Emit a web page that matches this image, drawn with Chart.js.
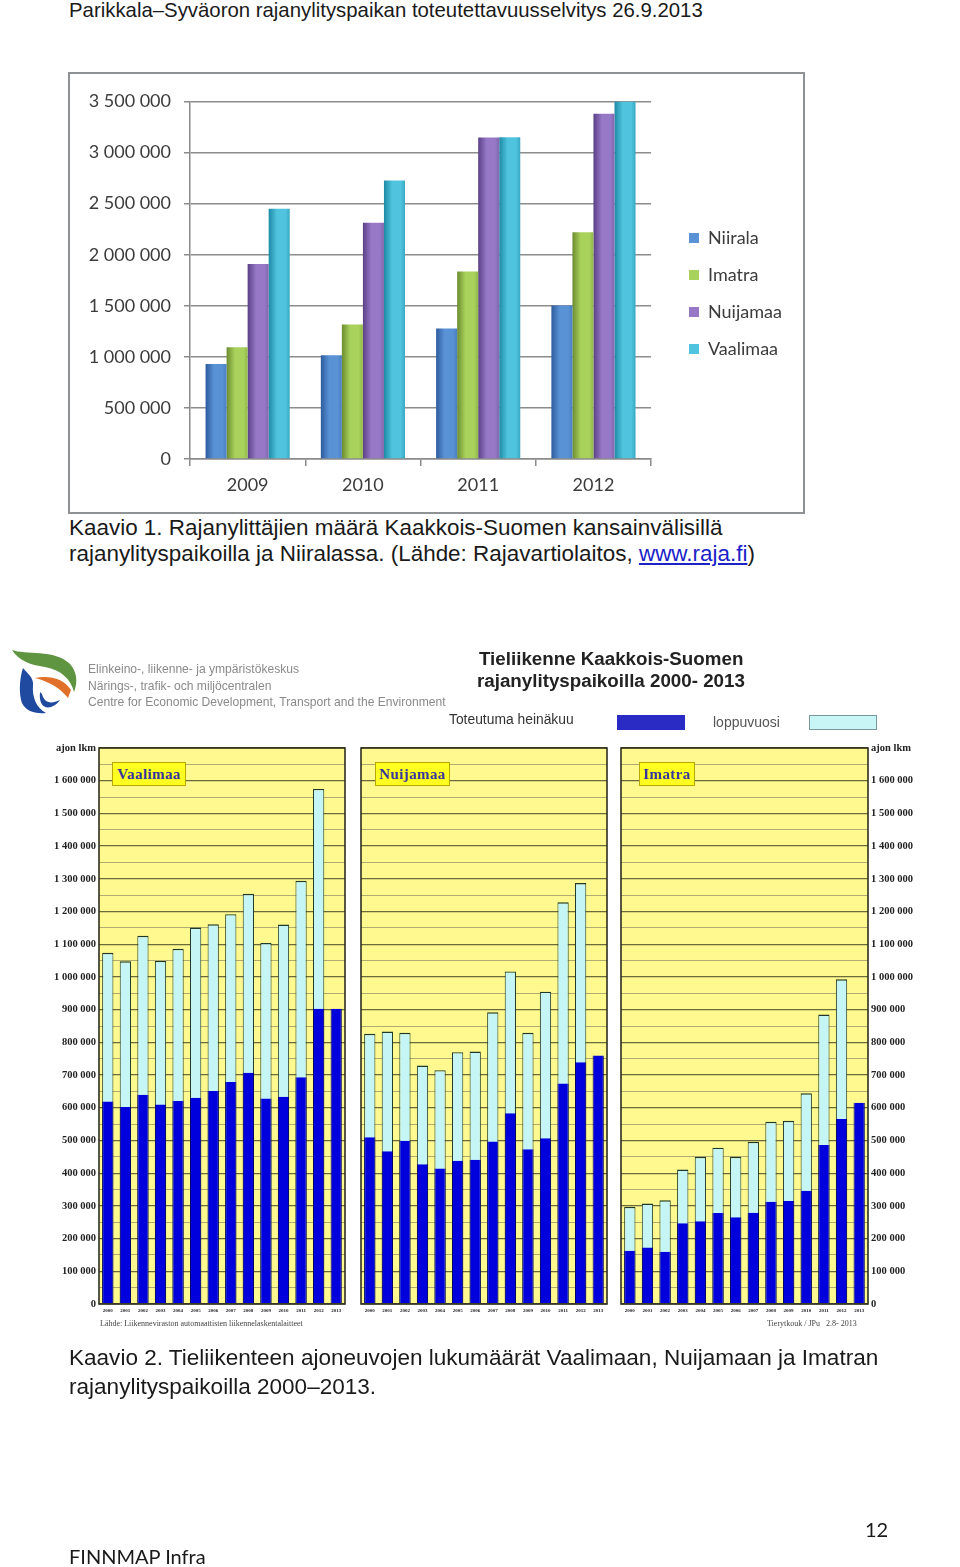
<!DOCTYPE html>
<html lang="fi"><head><meta charset="utf-8">
<script src="https://cdn.jsdelivr.net/npm/chart.js@4"></script>
<style>
html,body{margin:0;padding:0;background:#fff;width:960px;height:1567px;overflow:hidden;position:relative}
.t{position:absolute;white-space:nowrap;font-family:"Liberation Sans",Arial,sans-serif;color:#1a1a1a;line-height:1}
canvas{position:absolute}
#fig2{position:absolute;left:0;top:0;width:960px;height:1567px;filter:blur(.55px)}
.box{position:absolute;background:#ffff22;border:1.5px solid #b9a800;box-sizing:border-box;font:bold 15px "Liberation Serif",serif;color:#35359c;letter-spacing:.4px;text-align:center;line-height:22px;top:762px;height:24px}
.sw{position:absolute;top:715px;height:15px;width:68px;box-sizing:border-box}
</style></head><body>
<div class="t" style="left:69px;top:0px;font-size:20.37px;">Parikkala–Syväoron rajanylityspaikan toteutettavuusselvitys 26.9.2013</div>

<div style="position:absolute;left:68px;top:72px;width:737px;height:442px;box-sizing:border-box;border:2px solid #8e9294"></div>
<canvas id="c1" width="733" height="438" style="left:70px;top:74px;filter:blur(.3px)"></canvas>

<div class="t" style="left:69px;top:517px;font-size:22.45px;">Kaavio 1. Rajanylittäjien määrä Kaakkois-Suomen kansainvälisillä</div>
<div class="t" style="left:69px;top:543px;font-size:22.45px;">rajanylityspaikoilla ja Niiralassa. (Lähde: Rajavartiolaitos, <span style="color:#1a22c8;text-decoration:underline">www.raja.fi</span>)</div>

<div id="fig2">
<svg style="position:absolute;left:0;top:640px" width="90" height="80" viewBox="0 0 90 80">
<path d="M12 10C25 15 55 9 70 24C77 32 78 42 74 52C71 40 62 30 45 27C30 25 18 20 12 10Z" fill="#5f9440"/>
<path d="M23 28C19 40 19 55 22 63C26 71 34 74 46 73C36 68 32 56 33 46C34 38 28 34 23 28Z" fill="#1f4a9f"/>
<path d="M35 38C48 35 64 38 71 50L68 58C60 48 50 42 35 38Z" fill="#e0702a"/>
<path d="M42 54C44 62 50 65 60 60C52 71 38 71 40 52Z" fill="#1f4a9f"/>
</svg>
<div class="t" style="left:88px;top:663px;font-size:12.1px;color:#8a8a8a">Elinkeino-, liikenne- ja ympäristökeskus</div>
<div class="t" style="left:88px;top:680px;font-size:12.1px;color:#8a8a8a">Närings-, trafik- och miljöcentralen</div>
<div class="t" style="left:88px;top:696px;font-size:12.1px;color:#8a8a8a">Centre for Economic Development, Transport and the Environment</div>
<div class="t" style="left:479px;top:650px;font-size:18.75px;font-weight:bold;color:#222">Tieliikenne Kaakkois-Suomen</div>
<div class="t" style="left:477px;top:672px;font-size:18.75px;font-weight:bold;color:#222">rajanylityspaikoilla 2000- 2013</div>
<div class="t" style="left:449px;top:713px;font-size:13.85px;color:#333">Toteutuma heinäkuu</div>
<div class="sw" style="left:617px;background:#2a2ac4"></div>
<div class="t" style="left:713px;top:715px;font-size:14px;color:#555">loppuvuosi</div>
<div class="sw" style="left:809px;background:#c8f6f6;border:1.5px solid #7a9a9a"></div>

<canvas id="p1" width="300" height="590" style="left:50px;top:738px"></canvas>
<canvas id="p2" width="258" height="590" style="left:355px;top:738px"></canvas>
<canvas id="p3" width="310" height="590" style="left:615px;top:738px"></canvas>

<div class="box" style="left:112px;width:74px">Vaalimaa</div>
<div class="box" style="left:375px;width:75px">Nuijamaa</div>
<div class="box" style="left:639px;width:56px">Imatra</div>

<div class="t" style="left:100px;top:1320px;font-size:8px;font-family:'Liberation Serif',serif;color:#444">Lähde: Liikenneviraston automaattisten liikennelaskentalaitteet</div>
<div class="t" style="left:767px;top:1320px;font-size:8px;font-family:'Liberation Serif',serif;color:#444">Tierytkouk / JPu &nbsp; 2.8- 2013</div>
</div>

<div class="t" style="left:69px;top:1347px;font-size:22.55px;">Kaavio 2. Tieliikenteen ajoneuvojen lukumäärät Vaalimaan, Nuijamaan ja Imatran</div>
<div class="t" style="left:69px;top:1376px;font-size:22.55px;">rajanylityspaikoilla 2000–2013.</div>
<div class="t" style="left:865px;top:1519px;font-size:20px;font-family:Lato,sans-serif">12</div>
<div class="t" style="left:69px;top:1546px;font-size:20px;font-family:Lato,sans-serif">FINNMAP Infra</div>

<script>
// ---- Figure 1 data ----
const years1 = ['2009','2010','2011','2012'];
const niirala  = [930000,1015000,1277000,1502000];
const imatra1  = [1094000,1316000,1835000,2220000];
const nuijamaa1= [1910000,2312000,3147000,3379000];
const vaalimaa1= [2449000,2726000,3151000,3500000];

// ---- Figure 2 data (thousands of vehicles) ----
const years2 = ['2000','2001','2002','2003','2004','2005','2006','2007','2008','2009','2010','2011','2012','2013'];
const vaalimaaJuly = [619,602,640,610,621,631,651,679,707,628,634,693,903,903];
const vaalimaaYear = [1074,1048,1126,1049,1086,1151,1161,1192,1254,1104,1160,1294,1575,null];
const nuijamaaJuly = [510,467,499,427,414,438,441,497,583,473,507,674,739,760];
const nuijamaaYear = [826,833,829,729,715,770,772,892,1017,829,955,1228,1287,null];
const imatraJuly = [163,173,160,247,253,278,265,279,313,315,346,486,566,615];
const imatraYear = [297,307,317,411,450,478,450,496,557,560,644,885,993,null];

const spaced = v => String(v).replace(/\B(?=(\d{3})+$)/g,' ');
Chart.defaults.animation = false;
Chart.defaults.responsive = false;

const shades = {Niirala:['#2c5c9c','#5a92d6','#4a80c0'],Imatra:['#6c8c30','#a9d25c','#92b84a'],Nuijamaa:['#5a4086','#9678c6','#8266ae'],Vaalimaa:['#1e8aa6','#50c4de','#38a8c4']};
const gloss = {id:'gloss',beforeDatasetDraw(chart,args){
  const meta=args.meta, s=shades[chart.data.datasets[args.index].label], c=chart.ctx;
  meta.data.forEach(el=>{
    const g=c.createLinearGradient(el.x-el.width/2,0,el.x+el.width/2,0);
    g.addColorStop(0,s[0]);g.addColorStop(.4,s[1]);g.addColorStop(.8,s[1]);g.addColorStop(1,s[2]);
    el.options=Object.assign({},el.options,{backgroundColor:g});
  });
}};
const placeLegend = {id:'placeLegend',afterLayout(chart){
  const l=chart.legend, w=l.width, h=l.height;
  l.left=600; l.right=600+w; l.top=136; l.bottom=136+h;
}};
new Chart(document.getElementById('c1'),{
  type:'bar',
  data:{labels:years1,datasets:[
    {label:'Niirala',data:niirala,backgroundColor:shades.Niirala[1]},
    {label:'Imatra',data:imatra1,backgroundColor:shades.Imatra[1]},
    {label:'Nuijamaa',data:nuijamaa1,backgroundColor:shades.Nuijamaa[1]},
    {label:'Vaalimaa',data:vaalimaa1,backgroundColor:shades.Vaalimaa[1]}]},
  options:{
    layout:{padding:{top:27.5,right:30,left:0,bottom:0}},
    datasets:{bar:{categoryPercentage:.73,barPercentage:1}},
    plugins:{legend:{position:'right',align:'start',labels:{boxWidth:10,boxHeight:10,padding:19,color:'#3c3c3c',font:{family:'Lato',size:18}}},tooltip:{enabled:false}},
    scales:{
      x:{afterFit(s){s.height=53},border:{color:'#8a8a8a',width:1.5},
         grid:{drawOnChartArea:false,color:'#8a8a8a',lineWidth:1.5,tickLength:7},
         ticks:{color:'#3c3c3c',padding:8,font:{family:'Lato',size:18}}},
      y:{min:0,max:3500000,afterFit(s){s.width=120},border:{color:'#8a8a8a',width:1.5},
         grid:{color:'#8c8c8c',lineWidth:1.5,tickLength:6},
         ticks:{stepSize:500000,color:'#3c3c3c',padding:13,callback:spaced,font:{family:'Lato',size:18}}}
    }
  },
  plugins:[gloss,placeLegend]
});

const YELLOW='#fff98f';
const panelFrame={id:'panelFrame',
  beforeDraw(chart){const a=chart.chartArea,c=chart.ctx;c.save();c.fillStyle=YELLOW;c.fillRect(a.left,a.top,a.width,a.height);c.restore();},
  afterDraw(chart){const a=chart.chartArea,c=chart.ctx;c.save();c.strokeStyle='#2e2e1e';c.lineWidth=1.6;c.strokeRect(a.left,a.top,a.width,a.height);c.restore();}
};
function panel(id,july,year,opt){
  new Chart(document.getElementById(id),{
    type:'bar',
    data:{labels:years2,datasets:[
      {label:'Toteutuma heinäkuu',data:july.map(v=>v*1000),backgroundColor:'#0000dc',borderColor:'#00006a',borderWidth:{left:1,right:1}},
      {label:'loppuvuosi',data:year.map(v=>v===null?null:v*1000),backgroundColor:'#c6f5f6',borderColor:'#1f3a2a',borderWidth:{left:1,right:1,top:1.4}}]},
    options:{
      layout:{padding:opt.padding},
      datasets:{bar:{grouped:false,categoryPercentage:.64,barPercentage:1}},
      plugins:{legend:{display:false},tooltip:{enabled:false}},
      scales:{
        x:{afterFit(s){s.height=24},border:{display:false},grid:{display:false,drawTicks:false,tickLength:0},
           ticks:{color:'#222',padding:4,maxRotation:0,autoSkip:false,font:{family:'Liberation Serif',size:5,weight:'bold'}}},
        y:{min:0,max:1700000,position:opt.pos,afterFit(s){s.width=opt.w},border:{display:false},
           grid:{drawTicks:false,lineWidth:c=>c.tick.value%100000===0?1.3:1,color:c=>c.tick.value%100000===0?'#6a6a3a':'#b0ac70'},
           ticks:{display:opt.labels,stepSize:50000,autoSkip:false,padding:opt.tp,color:'#222',
             callback:v=>v===1700000?'ajon lkm':(v%100000===0?spaced(v):''),
             font:{family:'Liberation Serif',size:10.5,weight:'bold'}}}
      }
    },
    plugins:[panelFrame]
  });
}
panel('p1',vaalimaaJuly,vaalimaaYear,{padding:{top:10,right:5,left:0,bottom:0},pos:'left',w:49,labels:true,tp:3});
panel('p2',nuijamaaJuly,nuijamaaYear,{padding:{top:10,right:6,left:6,bottom:0},pos:'left',w:0,labels:false,tp:0});
panel('p3',imatraJuly,imatraYear,{padding:{top:10,right:0,left:6,bottom:0},pos:'right',w:57,labels:true,tp:3});
</script>
</body></html>
